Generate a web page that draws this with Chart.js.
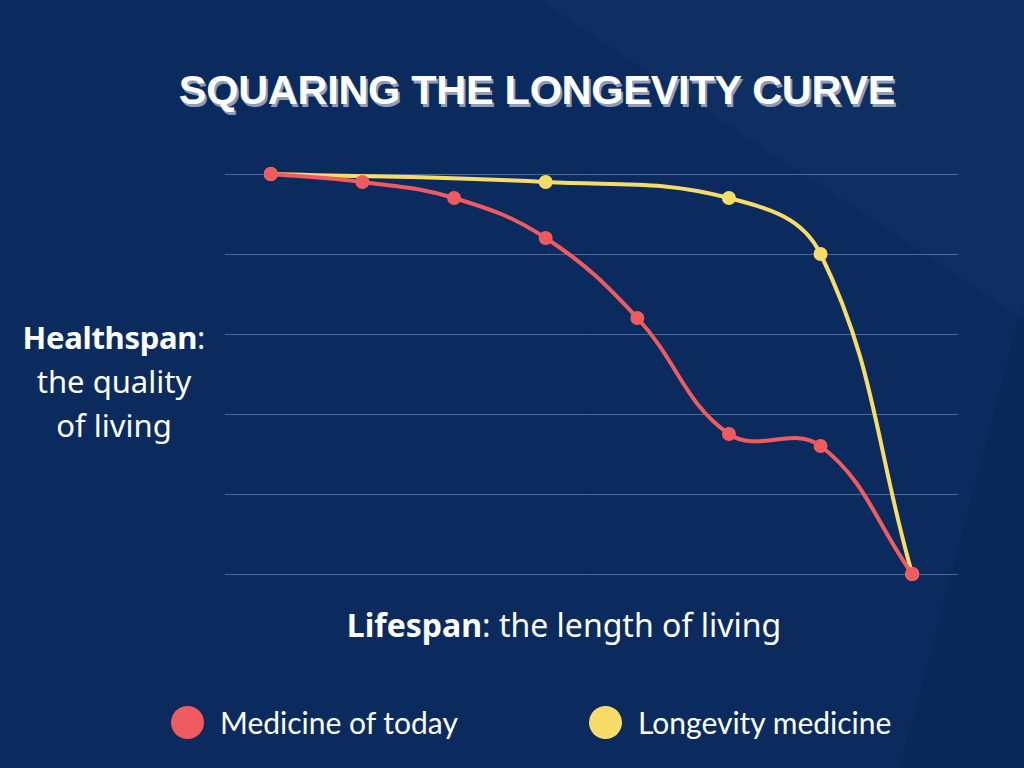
<!DOCTYPE html>
<html>
<head>
<meta charset="utf-8">
<script src="https://cdn.jsdelivr.net/npm/chart.js@4/dist/chart.umd.min.js"></script>
<style>
  html, body { margin:0; padding:0; }
  body { width:1024px; height:768px; background:#0b2b5f; position:relative; overflow:hidden; font-family:"Noto Sans", "Open Sans", sans-serif; color:#fff; }
  .shape1 { position:absolute; left:0; top:0; width:1024px; height:768px; background:rgba(255,255,255,0.018);
    clip-path: polygon(540px 0, 1024px 0, 1024px 320px); }
  .shape2 { position:absolute; left:0; top:0; width:1024px; height:768px; background:rgba(0,10,40,0.10);
    clip-path: polygon(1024px 300px, 1024px 768px, 900px 768px); }
  #wrap { position:absolute; left:0; top:0; width:1024px; height:768px; }
  .title { position:absolute; left:0; width:1074px; top:66px; text-align:center; font-family:"Liberation Sans", Arial, sans-serif; font-weight:700; font-size:41.5px; letter-spacing:-0.3px;
    text-shadow: 2px 3px 0 #8e9cb8; }
  .ylab { position:absolute; left:0; width:228px; top:315px; text-align:center; font-size:31px; line-height:44px; }
  .ylab b { letter-spacing:-0.3px; }
  .xlab { position:absolute; left:564px; transform:translateX(-50%); top:603px; font-size:32px; white-space:nowrap; }
  .leg { position:absolute; top:704px; font-family:"Lato", sans-serif; font-weight:400; font-size:30px; display:flex; align-items:center; }
  .dot { width:33px; height:33px; border-radius:50%; margin-right:16px; display:inline-block; }
</style>
</head>
<body>
<div class="shape1"></div>
<div class="shape2"></div>
<div class="title">SQUARING THE LONGEVITY CURVE</div>
<div class="ylab"><b>Healthspan</b>:<br>the quality<br>of living</div>
<div class="xlab"><b>Lifespan</b>: the length of living</div>
<div class="leg" style="left:171px;"><span class="dot" style="background:#f05b5f"></span>Medicine of today</div>
<div class="leg" style="left:589px;"><span class="dot" style="background:#f8dc68"></span>Longevity medicine</div>
<div id="wrap"><canvas id="c" width="1024" height="768"></canvas></div>
<script>
const stages = ['1','2','3','4','5','6','7','8'];
const medicineOfToday = [100, 98, 94, 84, 64, 35, 32, 0];
const longevityMedicine = [100, null, null, 98, null, 94, 80, 0];
const seriesNames = ['Medicine of today', 'Longevity medicine'];
const yTicks = [0, 20, 40, 60, 80, 100];

new Chart(document.getElementById('c'), {
  type: 'line',
  data: {
    labels: stages,
    datasets: [
      { label: seriesNames[0], data: medicineOfToday, borderColor:'#f05b5f', backgroundColor:'#f05b5f', borderWidth:4, pointRadius:5, pointHoverRadius:5, tension:0.4, clip:false },
      { label: seriesNames[1], data: longevityMedicine, borderColor:'#f8dc68', backgroundColor:'#f8dc68', borderWidth:4, pointRadius:5, pointHoverRadius:5, tension:0.4, spanGaps:true, clip:false }
    ]
  },
  options: {
    responsive:false, animation:false,
    layout:{ padding:{ left:225, right:66, top:174, bottom:194 } },
    plugins:{ legend:{ display:false }, tooltip:{ enabled:false } },
    scales:{
      x:{ type:'category', offset:true, display:false },
      y:{ min:0, max:100, afterBuildTicks:(s)=>{ s.ticks = yTicks.map(v=>({value:v})); },
          grid:{ color:'rgba(160,180,215,0.45)', lineWidth:1, drawTicks:false }, border:{ display:false }, ticks:{ display:false } }
    }
  }
});
</script>
</body>
</html>
